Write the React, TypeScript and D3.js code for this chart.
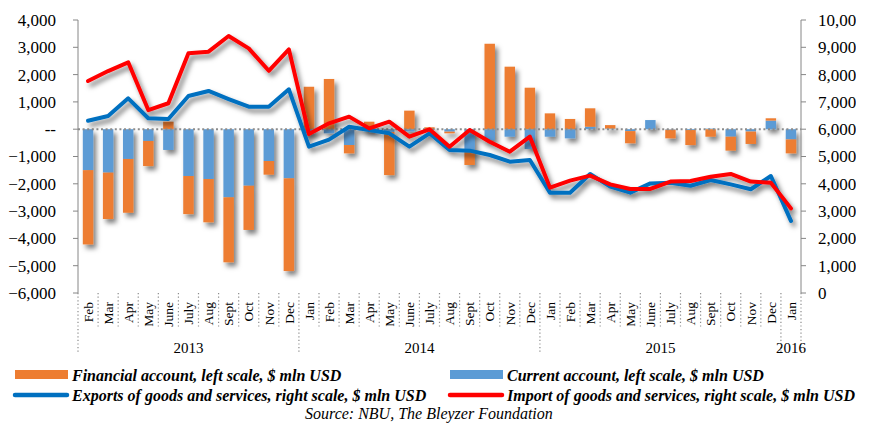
import React from "react";
import * as d3 from "d3";

// ---------- data ----------
const months = [
  "Feb", "Mar", "Apr", "May", "June", "July", "Aug", "Sept", "Oct", "Nov", "Dec",
  "Jan", "Feb", "Mar", "Apr", "May", "June", "July", "Aug", "Sept", "Oct", "Nov", "Dec",
  "Jan", "Feb", "Mar", "Apr", "May", "June", "July", "Aug", "Sept", "Oct", "Nov", "Dec",
  "Jan",
];
const yearLabels = ["2013", "2014", "2015", "2016"];
const yearMonthCounts = [11, 12, 12, 1];

const currentAccount = [
  -1500, -1590, -1090, -430, -760, -1715, -1825, -2495, -2070, -1165, -1800,
  -150, -150, -580, -60, -100, -80, -30, -90, -760, -395, -275, -725,
  -275, -335, 90, 20, -70, 335, -20, -30, 20, -275, -85, 315,
  -375,
];
const financialAccount = [
  -2720, -1700, -1970, -920, 275, -1395, -1585, -2380, -1620, -500, -3395,
  1555, 1840, -305, 275, -1580, 680, 70, -60, -550, 3130, 2290, 1520,
  580, 375, 675, 130, -445, 0, -315, -550, -275, -510, -455, 85,
  -510,
];
const exportsGS = [
  6310, 6485, 7130, 6400, 6375, 7215, 7400, 7105, 6825, 6825, 7460,
  5360, 5620, 6090, 5970, 5850, 5360, 5850, 5240, 5215, 5055, 4810, 4870,
  3675, 3675, 4360, 3895, 3675, 4015, 4040, 3930, 4140, 3980, 3800, 4285,
  2640,
];
const importsGS = [
  7765, 8130, 8450, 6700, 6950, 8780, 8840, 9415, 8960, 8140, 8925,
  5825, 6215, 6460, 6030, 6275, 5725, 5995, 5360, 5970, 5540, 5175, 5725,
  3860, 4115, 4300, 3980, 3810, 3810, 4080, 4100, 4260, 4360, 4080, 4040,
  3100,
];
const leftTicks = [4000, 3000, 2000, 1000, 0, -1000, -2000, -3000, -4000, -5000, -6000];
const rightTicks = [0, 1000, 2000, 3000, 4000, 5000, 6000, 7000, 8000, 9000, 10000];

const legendItems = [
  { label: "Financial account, left scale, $ mln USD", kind: "rect", color: "#ED7D31" },
  { label: "Current account, left scale, $ mln USD", kind: "rect", color: "#5B9BD5" },
  { label: "Exports of goods and services, right scale, $ mln USD", kind: "line", color: "#0070C0" },
  { label: "Import of goods and services, right scale, $ mln USD", kind: "line", color: "#FF0000" },
];
const sourceText = "Source: NBU, The Bleyzer Foundation";

// ---------- layout ----------
const W = 875;
const H = 423;
const plotL = 78;
const plotR = 801;
const plotT = 20;
const plotB = 293;
const serif = "'Liberation Serif', 'Times New Roman', serif";

export default function App() {
  const n = months.length;
  const idx = d3.range(n);
  const x = d3.scaleBand<number>().domain(idx).range([plotL, plotR]).paddingInner(0.48).paddingOuter(0.24);
  const step = x.step();
  const bw = x.bandwidth();
  const cx = (i: number) => (x(i) as number) + bw / 2;
  const boundary = (i: number) => plotL + i * step;

  const yL = d3.scaleLinear().domain([-6000, 4000]).range([plotB, plotT]);
  const yR = d3.scaleLinear().domain([0, 10000]).range([plotB, plotT]);

  const rows = idx.map((i) => ({ ca: currentAccount[i], fa: financialAccount[i] }));
  const stacked = d3.stack<any>().keys(["ca", "fa"]).offset(d3.stackOffsetDiverging)(rows);
  const barColors: Record<string, string> = { ca: "#5B9BD5", fa: "#ED7D31" };

  const line = d3
    .line<number>()
    .x((_, i) => cx(i))
    .y((v) => yR(v));

  const fmt = d3.format(",");

  let acc = 0;
  const years = yearLabels.map((label, k) => {
    const start = acc;
    acc += yearMonthCounts[k];
    return { label, start, end: acc };
  });
  const yearBounds = [0, ...years.map((y) => y.end)];

  return (
    <svg
      width={W}
      height={H}
      style={{ position: "absolute", left: 0, top: 0, background: "#fff" }}
      fontFamily={serif}
    >
      <defs>
        <filter id="shadow" filterUnits="userSpaceOnUse" x={0} y={0} width={W} height={H}>
          <feDropShadow dx={3} dy={4} stdDeviation={2.4} floodColor="#000" floodOpacity={0.5} />
        </filter>
        <clipPath id="rclip">
          <rect x={790} y={0} width={66} height={H} />
        </clipPath>
      </defs>
      <rect x={0} y={0} width={W} height={H} fill="#fff" />

      {/* bars */}
      <g filter="url(#shadow)">
        {stacked.map((s) => (
          <g key={s.key} fill={barColors[s.key]}>
            {s.map((d, i) => {
              const y0 = yL(d[0]);
              const y1 = yL(d[1]);
              return (
                <rect
                  key={i}
                  x={x(i)}
                  y={Math.min(y0, y1)}
                  width={bw}
                  height={Math.abs(y1 - y0)}
                />
              );
            })}
          </g>
        ))}
      </g>

      {/* zero line */}
      <line
        x1={plotL}
        x2={plotR}
        y1={yL(0)}
        y2={yL(0)}
        stroke="#8c8c8c"
        strokeWidth={2}
        strokeDasharray="2,2.6"
      />

      {/* lines */}
      <g filter="url(#shadow)" fill="none" strokeLinejoin="round" strokeLinecap="round">
        <path d={line(exportsGS) || ""} stroke="#0070C0" strokeWidth={4} />
        <path d={line(importsGS) || ""} stroke="#FF0000" strokeWidth={4} />
      </g>

      {/* left axis */}
      <line x1={plotL} x2={plotL} y1={plotT} y2={plotB} stroke="#868686" strokeWidth={1} />
      {leftTicks.map((t) => (
        <g key={t}>
          <line x1={plotL - 5} x2={plotL} y1={yL(t)} y2={yL(t)} stroke="#868686" />
          <text x={56} y={yL(t)} dy="0.35em" textAnchor="end" fontSize={17} fill="#000">
            {t === 0 ? "--" : fmt(t)}
          </text>
        </g>
      ))}

      {/* right axis */}
      <line x1={plotR} x2={plotR} y1={plotT} y2={plotB} stroke="#868686" strokeWidth={1} />
      <g clipPath="url(#rclip)">
        {rightTicks.map((t) => (
          <g key={t}>
            <line x1={plotR} x2={plotR + 5} y1={yR(t)} y2={yR(t)} stroke="#868686" />
            <text x={818} y={yR(t)} dy="0.35em" textAnchor="start" fontSize={17} fill="#000">
              {fmt(t)}
            </text>
          </g>
        ))}
      </g>

      {/* category separators */}
      {d3.range(n + 1).map((i) => {
        const isYear = yearBounds.includes(i);
        return (
          <line
            key={i}
            x1={boundary(i)}
            x2={boundary(i)}
            y1={plotB}
            y2={isYear ? 353 : 328}
            stroke="#8c8c8c"
            strokeWidth={1.2}
            strokeDasharray="1.2,2.4"
          />
        );
      })}

      {/* month labels */}
      {months.map((m, i) => (
        <text
          key={i}
          transform={`translate(${cx(i)},${302}) rotate(-90)`}
          textAnchor="end"
          dy="0.35em"
          fontSize={13.5}
          fill="#000"
        >
          {m}
        </text>
      ))}

      {/* year labels */}
      {years.map((y) => (
        <text
          key={y.label}
          x={(boundary(y.start) + boundary(y.end)) / 2}
          y={348}
          dy="0.35em"
          textAnchor="middle"
          fontSize={15}
          fill="#000"
        >
          {y.label}
        </text>
      ))}

      {/* legend */}
      {legendItems.map((it, k) => {
        const col = k % 2;
        const row = Math.floor(k / 2);
        const lx = col === 0 ? 14 : 449;
        const ly = row === 0 ? 375 : 395;
        return (
          <g key={it.label}>
            {it.kind === "rect" ? (
              <rect x={lx + 1} y={ly - 5} width={53} height={9} fill={it.color} />
            ) : (
              <line
                x1={lx + 1}
                x2={lx + 53}
                y1={ly}
                y2={ly}
                stroke={it.color}
                strokeWidth={4.5}
                strokeLinecap="round"
              />
            )}
            <text
              x={lx + 58}
              y={ly}
              dy="0.35em"
              fontSize={16}
              fontWeight="bold"
              fontStyle="italic"
              fill="#000"
            >
              {it.label}
            </text>
          </g>
        );
      })}

      <text x={305} y={413} dy="0.35em" fontSize={16} fontStyle="italic" fill="#000">
        {sourceText}
      </text>
    </svg>
  );
}
